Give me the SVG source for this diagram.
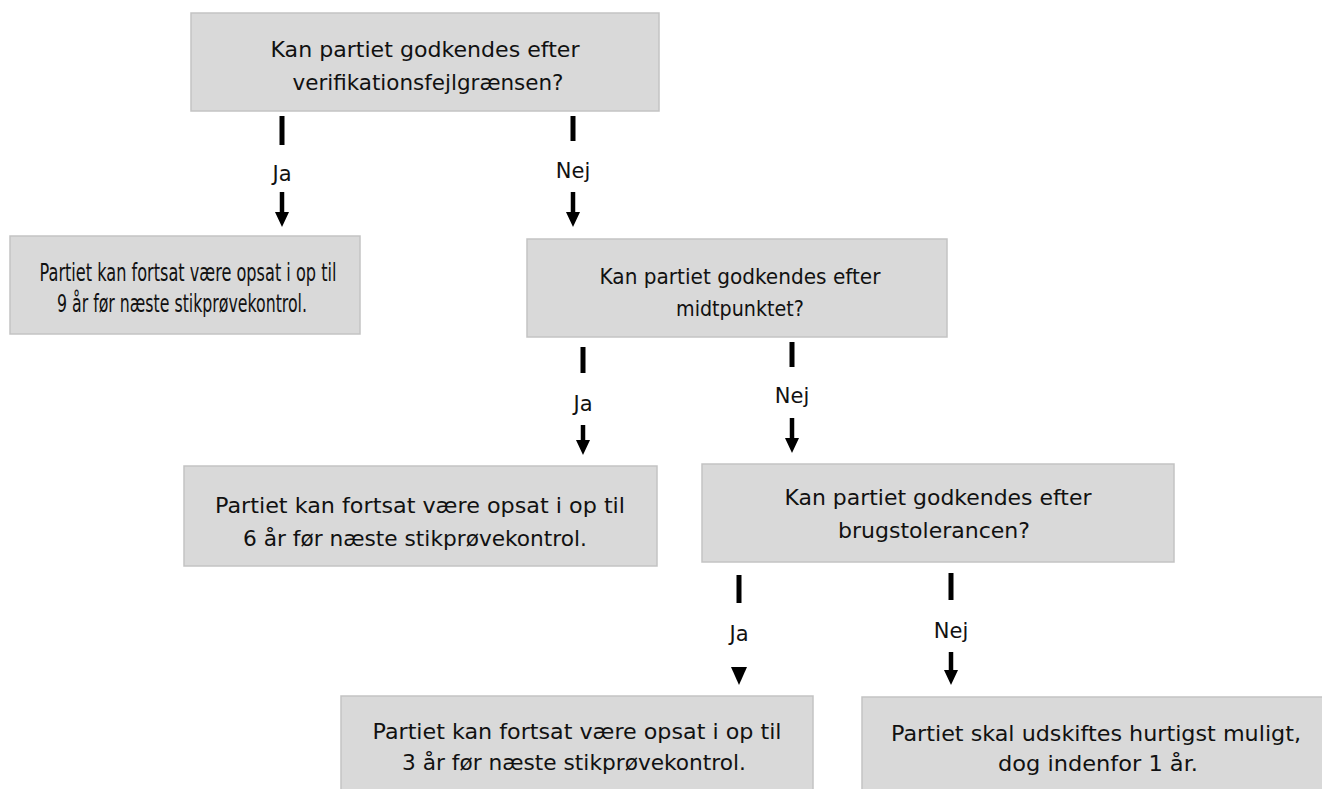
<svg xmlns="http://www.w3.org/2000/svg" width="1322" height="789" viewBox="0 0 1322 789">
<defs>
<style>
.box{fill:#d9d9d9;stroke:#c3c3c3;stroke-width:1.5}
.t{font-family:"DejaVu Sans","Liberation Sans",sans-serif;font-size:21px;fill:#111;text-anchor:middle}
.lbl{font-family:"DejaVu Sans","Liberation Sans",sans-serif;font-size:21px;fill:#111;text-anchor:middle}
.bar{stroke:#000;stroke-width:5}
.shaft{stroke:#000;stroke-width:4.5}
.head{fill:#000}
</style>
</defs>
<rect width="1322" height="789" fill="#fff"/>
<g id="n1"><rect class="box" x="191" y="13" width="468" height="98"/>
<text class="t" x="425" y="57" textLength="309" lengthAdjust="spacingAndGlyphs">Kan partiet godkendes efter</text>
<text class="t" x="428" y="90" textLength="271" lengthAdjust="spacingAndGlyphs">verifikationsfejlgrænsen?</text></g>
<g id="n2"><rect class="box" x="10" y="236" width="350" height="98"/>
<text class="t" x="188" y="281" style="font-size:24px" textLength="297" lengthAdjust="spacingAndGlyphs">Partiet kan fortsat være opsat i op til</text>
<text class="t" x="182" y="312" style="font-size:24px" textLength="250" lengthAdjust="spacingAndGlyphs">9 år før næste stikprøvekontrol.</text></g>
<g id="n3"><rect class="box" x="527" y="239" width="420" height="98"/>
<text class="t" x="740" y="284" style="font-size:22px" textLength="281" lengthAdjust="spacingAndGlyphs">Kan partiet godkendes efter</text>
<text class="t" x="740" y="316" style="font-size:22px" textLength="128" lengthAdjust="spacingAndGlyphs">midtpunktet?</text></g>
<g id="n4"><rect class="box" x="184" y="466" width="473" height="100"/>
<text class="t" x="420" y="513" textLength="410" lengthAdjust="spacingAndGlyphs">Partiet kan fortsat være opsat i op til</text>
<text class="t" x="415" y="546" textLength="344" lengthAdjust="spacingAndGlyphs">6 år før næste stikprøvekontrol.</text></g>
<g id="n5"><rect class="box" x="702" y="464" width="472" height="98"/>
<text class="t" x="938" y="505" textLength="307" lengthAdjust="spacingAndGlyphs">Kan partiet godkendes efter</text>
<text class="t" x="934" y="538" textLength="192" lengthAdjust="spacingAndGlyphs">brugstolerancen?</text></g>
<g id="n6"><rect class="box" x="341" y="696" width="472" height="100"/>
<text class="t" x="577" y="739" textLength="409" lengthAdjust="spacingAndGlyphs">Partiet kan fortsat være opsat i op til</text>
<text class="t" x="574" y="770" textLength="344" lengthAdjust="spacingAndGlyphs">3 år før næste stikprøvekontrol.</text></g>
<g id="n7"><rect class="box" x="862" y="697" width="470" height="100"/>
<text class="t" x="1096" y="741" textLength="410" lengthAdjust="spacingAndGlyphs">Partiet skal udskiftes hurtigst muligt,</text>
<text class="t" x="1098" y="771" textLength="200" lengthAdjust="spacingAndGlyphs">dog indenfor 1 år.</text></g>
<g id="connectors">
<line class="bar" x1="282" y1="116" x2="282" y2="145"/>
<text class="lbl" x="282" y="181">Ja</text>
<line class="shaft" x1="282" y1="192" x2="282" y2="214"/>
<polygon class="head" points="275,212 289,212 282,227"/>

<line class="bar" x1="573" y1="116" x2="573" y2="141"/>
<text class="lbl" x="573" y="178">Nej</text>
<line class="shaft" x1="573" y1="192" x2="573" y2="214"/>
<polygon class="head" points="566,212 580,212 573,227"/>

<line class="bar" x1="583" y1="347" x2="583" y2="373"/>
<text class="lbl" x="583" y="411">Ja</text>
<line class="shaft" x1="583" y1="425" x2="583" y2="442"/>
<polygon class="head" points="576,440 590,440 583,455"/>

<line class="bar" x1="792" y1="342" x2="792" y2="367"/>
<text class="lbl" x="792" y="403">Nej</text>
<line class="shaft" x1="792" y1="418" x2="792" y2="440"/>
<polygon class="head" points="785,438 799,438 792,453"/>

<line class="bar" x1="739" y1="575" x2="739" y2="603"/>
<text class="lbl" x="739" y="641">Ja</text>
<polygon class="head" points="731,667 747,667 739,685"/>

<line class="bar" x1="951" y1="573" x2="951" y2="600"/>
<text class="lbl" x="951" y="638">Nej</text>
<line class="shaft" x1="951" y1="652" x2="951" y2="672"/>
<polygon class="head" points="944,670 958,670 951,685"/>
</g>
</svg>
